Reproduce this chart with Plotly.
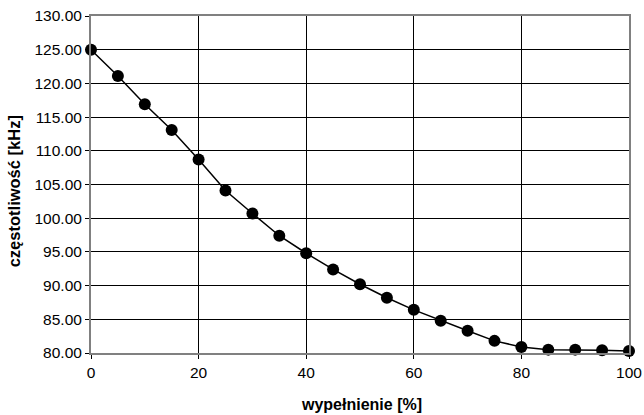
import plotly.graph_objects as go

duty = [0, 5, 10, 15, 20, 25, 30, 35, 40, 45, 50, 55, 60, 65, 70, 75, 80, 85, 90, 95, 100]
freq = [125.0, 121.1, 116.9, 113.1, 108.7, 104.1, 100.7, 97.4, 94.8, 92.4, 90.2,
        88.2, 86.4, 84.8, 83.3, 81.8, 80.9, 80.5, 80.5, 80.4, 80.3]
y_ticks = [80, 85, 90, 95, 100, 105, 110, 115, 120, 125, 130]
x_ticks = [0, 20, 40, 60, 80, 100]
x_title = "wypełnienie [%]"
y_title = "częstotliwość [kHz]"

fig = go.Figure()
fig.add_trace(go.Scatter(
    x=duty, y=freq, mode="lines+markers",
    line=dict(color="black", width=1.5),
    marker=dict(color="black", size=12),
    showlegend=False, cliponaxis=False,
))

font = "Liberation Sans, Arial, sans-serif"
fig.update_layout(
    width=644, height=415,
    margin=dict(l=91, r=15, t=16, b=62, autoexpand=False),
    paper_bgcolor="white", plot_bgcolor="white",
    font=dict(family=font, size=15.5, color="black"),
    xaxis=dict(
        range=[0, 100], tickvals=x_ticks, ticktext=[str(v) for v in x_ticks],
        showgrid=True, gridcolor="black", gridwidth=1,
        showline=True, linecolor="#808080", linewidth=2, mirror=True,
        ticks="outside", ticklen=4, tickcolor="black",
        zeroline=False, automargin=False,
    ),
    yaxis=dict(
        range=[80, 130], tickvals=y_ticks, ticktext=[f"{v:.2f}" for v in y_ticks],
        showgrid=True, gridcolor="black", gridwidth=1,
        showline=True, linecolor="#808080", linewidth=2, mirror=True,
        ticks="outside", ticklen=4, tickcolor="black",
        zeroline=False, automargin=False,
    ),
    annotations=[
        dict(text=f"<b>{x_title}</b>", xref="paper", yref="paper",
             x=0.502, y=-0.154, xanchor="center", yanchor="middle",
             showarrow=False, font=dict(size=16)),
        dict(text=f"<b>{y_title}</b>", xref="paper", yref="paper",
             x=-0.143, y=0.48, xanchor="center", yanchor="middle",
             textangle=-90, showarrow=False, font=dict(size=16.5)),
    ],
)

fig.write_html("out.html")
